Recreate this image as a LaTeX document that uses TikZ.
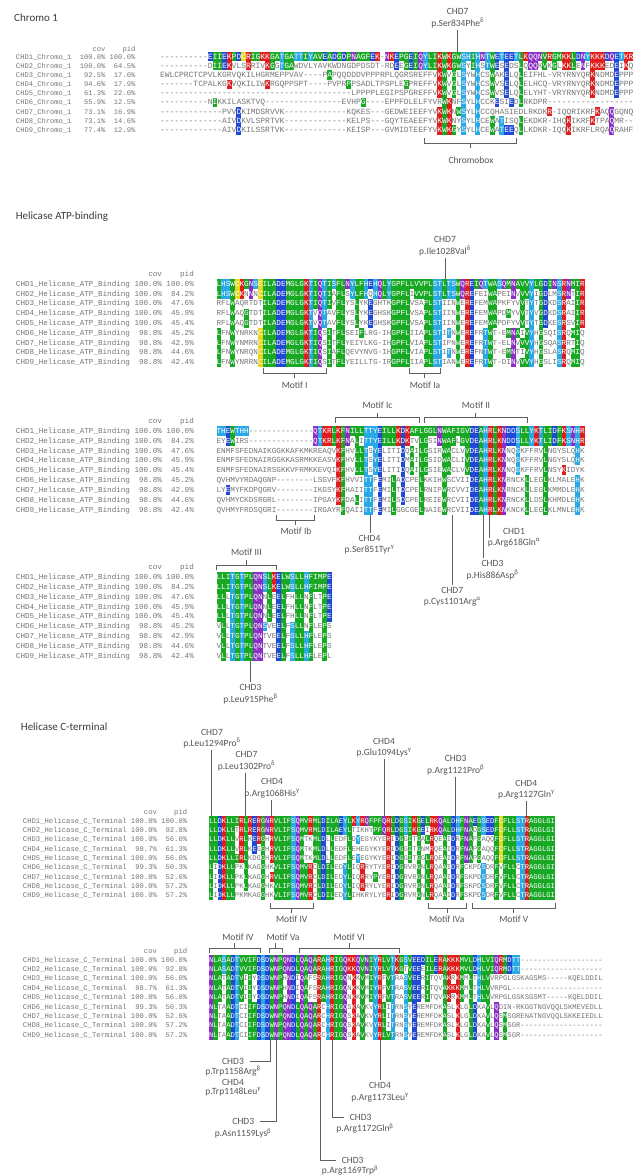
\documentclass[tikz,border=0pt]{standalone}
\usepackage{fontspec}
\setmainfont{Carlito}
\newfontfamily\monof{Liberation Mono}
\definecolor{rsg}{RGB}{24,168,36}
\definecolor{rsb}{RGB}{32,72,214}
\definecolor{rsr}{RGB}{224,28,28}
\definecolor{rsc}{RGB}{40,168,228}
\definecolor{rsp}{RGB}{138,46,198}
\definecolor{rsy}{RGB}{232,214,24}
\definecolor{alt}{RGB}{118,118,118}
\definecolor{lblc}{RGB}{85,85,85}
\definecolor{lnc}{RGB}{95,95,95}
\definecolor{ttlc}{RGB}{60,60,60}
% residue -> colour class
\def\rc#1#2{\expandafter\def\csname rclr#1\endcsname{#2}}
\rc Ag\rc Vg\rc Lg\rc Ig\rc Mg\rc Fg\rc Wg\rc Gg\rc Pg
\rc Db\rc Eb\rc Kr\rc Rr\rc Sc\rc Tc\rc Hc\rc Yc\rc Np\rc Qp\rc Cy
\newcount\alcol
\def\alfillcell#1#2{%
  \if#1-\else\if#1#2%
    \edef\alcc{rs\csname rclr#1\endcsname}%
    \fill[fill=\alcc] ({\alx+\the\alcol*\alw},{\alcy-\alh/2}) rectangle ++(\alw,\alh);%
  \fi\fi}
\def\alfillscan#1#2\relax#3#4\relax{%
  \alfillcell#1#3%
  \advance\alcol by 1\relax
  \ifx\relax#2\relax\else\alfillscan#2\relax#4\relax\fi}
\def\altextcell#1#2{\if#1-{\color{alt}-}\else\if#1#2{\color{white}#1}\else{\color{alt}#1}\fi\fi}
\def\altextscan#1#2\relax#3#4\relax{%
  \altextcell#1#3%
  \ifx\relax#2\relax\else\altextscan#2\relax#4\relax\fi}
\def\alpad{..............................}
\newcommand\alblock[6]{\def\alx{#1}\def\aly{#2}\def\alw{#3}\def\alh{#4}\def\alfs{#5}\def\alref{#6}\pgfmathsetmacro\aloff{0.3*#5}}
\newcommand\alrow[3]{%
  \pgfmathsetmacro\alcy{\aly+#2*\alh}%
  \alcol=0
  \edef\alnext{\noexpand\alfillscan#3\relax\alref\alpad\relax}\alnext
  \edef\alnexttxt{\noexpand\altextscan#3\relax\alref\alpad\relax}%
  \node[seqtxt] (#1) at (\alx,{\alcy+\aloff}) {\alnexttxt};}
\newcommand\lrow[4]{\node[labtxt] (#1) at (#2,{\aly+#3*\alh+\aloff}) {#4};}
\newcommand\brkbelow[3]{%
  \draw[brk] (#1,#3-5) -- (#1,#3) -- (#2,#3) -- (#2,#3-5);
  \draw[brk] ({(#1+#2)/2},#3) -- ({(#1+#2)/2},#3+5);}
\newcommand\brkabove[3]{%
  \draw[brk] (#1,#3+5) -- (#1,#3) -- (#2,#3) -- (#2,#3+5);
  \draw[brk] ({(#1+#2)/2},#3) -- ({(#1+#2)/2},#3-5);}
\tikzset{
  seqtxt/.style={anchor=base west, inner sep=0pt, outer sep=0pt, font=\monof\fontsize{\alfs}{\alfs}\selectfont},
  labtxt/.style={anchor=base west, inner sep=0pt, outer sep=0pt, text=alt, font=\monof\fontsize{\lfs}{\lfs}\selectfont},
  ann/.style={font=\fontsize{9.5}{11.5}\selectfont, text=lblc, align=center, inner sep=0pt, outer sep=2pt},
  annone/.style={font=\fontsize{9.5}{11.5}\selectfont, text=lblc, inner sep=0pt, outer sep=0pt},
  conn/.style={draw=lnc, line width=0.75pt},
  brk/.style={draw=lnc, line width=0.75pt},
  ttl/.style={font=\fontsize{11}{13}\selectfont, text=ttlc, anchor=west, inner sep=0pt},
  motif/.style={font=\fontsize{9.5}{11.5}\selectfont, text=lblc, inner sep=0pt}
}
\begin{document}
\begin{tikzpicture}[x=1pt,y=-1pt]
\fill[white] (0,0) rectangle (640,1176);
\useasboundingbox (0,0) rectangle (640,1176);

%================ Chromo 1
\node[ttl] (t1) at (14,17.3) {Chromo 1};
\alblock{160}{56.7}{4.78}{9.17}{7.97}{----------EIIEKPDCRIGKKGATGATTIYAVEADGDPNAGFEK-NKEPGEIQYLIKWKGWSHIHNTWETEETLKQQNVRGMKKLDNYKKKDQETKR}
\def\lfs{7.1}
\lrow{ch0}{16}{-0.85}{~~~~~~~~~~~~~~~~~~cov~~~~pid}
\lrow{ch1}{16}{0}{CHD1\_Chromo\_1~~100.0\%~100.0\%}
\lrow{ch2}{16}{1}{CHD2\_Chromo\_1~~100.0\%~~64.5\%}
\lrow{ch3}{16}{2}{CHD3\_Chromo\_1~~~92.5\%~~17.0\%}
\lrow{ch4}{16}{3}{CHD4\_Chromo\_1~~~94.6\%~~17.9\%}
\lrow{ch5}{16}{4}{CHD5\_Chromo\_1~~~61.3\%~~22.0\%}
\lrow{ch6}{16}{5}{CHD6\_Chromo\_1~~~55.9\%~~12.5\%}
\lrow{ch7}{16}{6}{CHD7\_Chromo\_1~~~73.1\%~~16.9\%}
\lrow{ch8}{16}{7}{CHD8\_Chromo\_1~~~73.1\%~~14.6\%}
\lrow{ch9}{16}{8}{CHD9\_Chromo\_1~~~77.4\%~~12.9\%}
\alrow{cs1}{0}{----------EIIEKPDCRIGKKGATGATTIYAVEADGDPNAGFEK-NKEPGEIQYLIKWKGWSHIHNTWETEETLKQQNVRGMKKLDNYKKKDQETKR}
\alrow{cs2}{1}{----------DIIEKVLSRRIVKGGTGAWDVLYAVKWDNGDPDSDT-RDEEGEIQYLIKWKGWSYIHSTWESEDSLQQQKVKGLKKLENFKKKEDEIKQ}
\alrow{cs3}{2}{EWLCPRCTCPVLKGRVQKILHGRMEPPVAV----PAPQQDDDVPPPRPLQGRSREFFVKWVGLSYWHCSWAKELQLEIFHL-VRYRNYQRKNDMDEPPP}
\alrow{cs4}{3}{-------TCPALKGKVQKILIWKRGQPPSPT----PVPRPPSADLTPSPLEGPREFFVKWVGLSYWHCSWVSELQLELHCQ-VRYRNYQRKNDMDEPPP}
\alrow{cs5}{4}{----------------------------------------LPPPPLEGIPSPGREFFVKWVGLSYWHCSWVSELQLELYHT-VRYRNYQRKNDMDEPPP}
\alrow{cs6}{5}{----------NIKKILASKTVQ----------------EVHPG----EPPFDLELFYVRWKNFSYLHCCKESIEDLRKDPR------------------}
\alrow{cs7}{6}{-------------PVVDKIMDSRVVK-------------KQKES---GEDWEIEEFYVKWKNWSYLHCCQHASIEDLRKDKR-IQQRIKRFKAQQGQNQ}
\alrow{cs8}{7}{-------------AIVDKVLSPRTVK-------------KELPS---GQYTEAEEFYVKWKNYSYLHCEWATISQLEKDKR-IHQKIKRFKTPAQMR--}
\alrow{cs9}{8}{-------------AIVDKILSSRTVK-------------KEISP---GVMIDTEEFYVKWKGYSYLHCEWATEEQLLKDKR-IQQKIKRFLRQAQRAHF}
\node[ann] (a1) at (457.7,18.3) {CHD7\\p.Ser834Phe\textsuperscript{δ}};
\coordinate (a1t) at (457.7,52.1);
\draw[conn] (a1) -- (a1t);
\brkbelow{424.3}{516}{143.3}
\node[motif] (m0) at (471,160) {Chromobox};

%================ Helicase ATP-binding
\node[ttl] (t2) at (15.6,217) {Helicase ATP-binding};
\node[ann] (a2) at (445,246) {CHD7\\p.Ile1028Val\textsuperscript{δ}};
\coordinate (a2t) at (445,279.1);
\draw[conn] (a2) -- (a2t);
\def\lfs{7.6}
\alblock{216.6}{284}{4.6}{9.8}{7.667}{LHSWCKGNSCILADEMGLGKTIQTISFLNYLFHEHQLYGPFLLVVPLSTLTSWQREIQTWASQMNAVVYLGDINSRNMIR}
\lrow{h10}{16}{-1}{~~~~~~~~~~~~~~~~~~~~~~~~~~~~~cov~~~~pid}
\lrow{h11}{16}{0}{CHD1\_Helicase\_ATP\_Binding~100.0\%~100.0\%}
\lrow{h12}{16}{1}{CHD2\_Helicase\_ATP\_Binding~100.0\%~~84.2\%}
\lrow{h13}{16}{2}{CHD3\_Helicase\_ATP\_Binding~100.0\%~~47.6\%}
\lrow{h14}{16}{3}{CHD4\_Helicase\_ATP\_Binding~100.0\%~~45.9\%}
\lrow{h15}{16}{4}{CHD5\_Helicase\_ATP\_Binding~100.0\%~~45.4\%}
\lrow{h16}{16}{5}{CHD6\_Helicase\_ATP\_Binding~~98.8\%~~45.2\%}
\lrow{h17}{16}{6}{CHD7\_Helicase\_ATP\_Binding~~98.8\%~~42.9\%}
\lrow{h18}{16}{7}{CHD8\_Helicase\_ATP\_Binding~~98.8\%~~44.6\%}
\lrow{h19}{16}{8}{CHD9\_Helicase\_ATP\_Binding~~98.8\%~~42.4\%}
\alrow{hs11}{0}{LHSWCKGNSCILADEMGLGKTIQTISFLNYLFHEHQLYGPFLLVVPLSTLTSWQREIQTWASQMNAVVYLGDINSRNMIR}
\alrow{hs12}{1}{LHSWCKNNNCILADEMGLGKTIQTIAFLSYLFHQHQLYGPFLIVVPLSTLTSWQREFEIWAPEINVVVYIGDLMSRNTIR}
\alrow{hs13}{2}{RFLWAQRTDTILADEMGLGKTIQTIVFLYSLYKEGHTKGPFLVSAPLSTIINWEREFEMWAPKFYVVTYTGDKDSRAIIR}
\alrow{hs14}{3}{RFLWAQGTDTILADEMGLGKTVQTAVFLYSLYKEGHSKGPFLVSAPLSTIINWEREFEMWAPDMYVVTYVGDKDSRAIIR}
\alrow{hs15}{4}{RFLWAQGTDTILADEMGLGKTVQTAVFLYSLYKEGHSKGPFLVSAPLSTIINWEREFEMWAPDFYVVTYTGDKESRSVIR}
\alrow{hs16}{5}{LFNWYNRKNCILADEMGLGKTIQSITFLSEIFLRG-IHGPFLIIAPLSTITNWEREFRTWT-EMNAIVYHGSQISRQMIQ}
\alrow{hs17}{6}{LFNWYNMRNCILADEMGLGKTIQSITFLYEIYLKG-IHGPFLVIAPLSTIPNWEREFRTWT-ELNVVVYHGSQASRRTIQ}
\alrow{hs18}{7}{LFNWYNRQNCILADEMGLGKTIQSIAFLQEVYNVG-IHGPFLVIAPLSTITNWEREFNTWT-EMNTIVYHGSLASRQMIQ}
\alrow{hs19}{8}{LFNWYNRRNCILADEMGLGKTIQSITFLYEILLTG-IRGPFLIIAPLSTIANWEREFRTWT-DINVVVYHGSLISRQMIQ}
\brkbelow{263.3}{326}{373}
\node[motif] (m1) at (294.7,385) {Motif I};
\brkbelow{409}{440.7}{373}
\node[motif] (m2) at (425,385) {Motif Ia};

% block 2
\brkabove{335.7}{419.3}{417.7}
\node[motif] (m3) at (377.5,405.5) {Motif Ic};
\brkabove{424}{527.7}{417.7}
\node[motif] (m4) at (476,405.5) {Motif II};
\alblock{216.6}{431}{4.6}{9.85}{7.667}{THEWTHH--------------QTKRLKFNILLTTYEILLKDKAFLGGLNWAFIGVDEAHRLKNDDSLLYKTLIDFKSNHR}
\lrow{h20}{16}{-1}{~~~~~~~~~~~~~~~~~~~~~~~~~~~~~cov~~~~pid}
\lrow{h21}{16}{0}{CHD1\_Helicase\_ATP\_Binding~100.0\%~100.0\%}
\lrow{h22}{16}{1}{CHD2\_Helicase\_ATP\_Binding~100.0\%~~84.2\%}
\lrow{h23}{16}{2}{CHD3\_Helicase\_ATP\_Binding~100.0\%~~47.6\%}
\lrow{h24}{16}{3}{CHD4\_Helicase\_ATP\_Binding~100.0\%~~45.9\%}
\lrow{h25}{16}{4}{CHD5\_Helicase\_ATP\_Binding~100.0\%~~45.4\%}
\lrow{h26}{16}{5}{CHD6\_Helicase\_ATP\_Binding~~98.8\%~~45.2\%}
\lrow{h27}{16}{6}{CHD7\_Helicase\_ATP\_Binding~~98.8\%~~42.9\%}
\lrow{h28}{16}{7}{CHD8\_Helicase\_ATP\_Binding~~98.8\%~~44.6\%}
\lrow{h29}{16}{8}{CHD9\_Helicase\_ATP\_Binding~~98.8\%~~42.4\%}
\alrow{hs21}{0}{THEWTHH--------------QTKRLKFNILLTTYEILLKDKAFLGGLNWAFIGVDEAHRLKNDDSLLYKTLIDFKSNHR}
\alrow{hs22}{1}{EYEWIRS--------------QTKRLKFNALITTYEILLKDKTVLGSINWAFLGVDEAHRLKNDDSLLYKTLIDFKSNHR}
\alrow{hs23}{2}{ENMFSFEDNAIKGGKKAFKMKREAQVKFHVLLTSYELITIDQAILGSIRWACLVVDEAHRLKNNQSKFFRVLNGYSLQHK}
\alrow{hs24}{3}{ENMFSFEDNAIRGGKKASRMKKEASVKFHVLLTSYELITIDMAILGSIDWACLIVDEAHRLKNNQSKFFRVLNGYSLQHK}
\alrow{hs25}{4}{ENMFSFEDNAIRSGKKVFRMKKEVQIKFHVLLTSYELITIDQAILGSIEWACLVVDEAHRLKNNQSKFFRVLNSYKIDYK}
\alrow{hs26}{5}{QVHMVYRDAQGNP--------LSGVFKFHVVITTFEMILADCPELKKIHWSCVIIDEAHRLKNRNCKLLEGLKLMALEHK}
\alrow{hs27}{6}{LYEMYFKDPQGRV--------IKGSYKFHAIITTFEMILTDCPELRNIPWRCVVIDEAHRLKNRNCKLLEGLKMMDLEHK}
\alrow{hs28}{7}{QVHMYCKDSRGRL--------IPGAYKFDALITTFEMILSDCPELREIEWRCVIIDEAHRLKNRNCKLLDSLKHMDLEHK}
\alrow{hs29}{8}{QVHMYFRDSQGRI--------IRGAYRFQAIITTFEMILGGCGELNAIEWRCVIIDEAHRLKNKNCKLLEGLKLMNLEHK}
\brkbelow{276}{314}{520}
\node[motif] (m5) at (296,531.5) {Motif Ib};
\coordinate (l1) at (370,514.8);
\coordinate (l2) at (452.3,514.8);
\coordinate (l3) at (483.3,514.8);
\coordinate (l4) at (489,514.8);
\node[ann] (b1) at (369.5,544.7) {CHD4\\p.Ser851Tyr\textsuperscript{γ}};
\node[ann] (b2) at (452.3,596.5) {CHD7\\p.Cys1101Arg\textsuperscript{α}};
\node[ann] (b3) at (492.5,570) {CHD3\\p.His886Asp\textsuperscript{β}};
\node[ann] (b4) at (514,537.5) {CHD1\\p.Arg618Gln\textsuperscript{α}};
\draw[conn] (l1) -- (l1 |- b1.north);
\draw[conn] (l2) -- (l2 |- b2.north);
\draw[conn] (l3) -- (l3 |- b3.north);
\draw[conn] (l4) -- (l4 |- b4.center);

% block 3
\brkabove{216.7}{276}{565}
\node[motif] (m6) at (246.4,552.5) {Motif III};
\alblock{216.6}{577}{4.6}{9.9}{7.667}{LLITGTPLQNSLKELWSLLHFIMPE}
\lrow{h30}{16}{-1}{~~~~~~~~~~~~~~~~~~~~~~~~~~~~~cov~~~~pid}
\lrow{h31}{16}{0}{CHD1\_Helicase\_ATP\_Binding~100.0\%~100.0\%}
\lrow{h32}{16}{1}{CHD2\_Helicase\_ATP\_Binding~100.0\%~~84.2\%}
\lrow{h33}{16}{2}{CHD3\_Helicase\_ATP\_Binding~100.0\%~~47.6\%}
\lrow{h34}{16}{3}{CHD4\_Helicase\_ATP\_Binding~100.0\%~~45.9\%}
\lrow{h35}{16}{4}{CHD5\_Helicase\_ATP\_Binding~100.0\%~~45.4\%}
\lrow{h36}{16}{5}{CHD6\_Helicase\_ATP\_Binding~~98.8\%~~45.2\%}
\lrow{h37}{16}{6}{CHD7\_Helicase\_ATP\_Binding~~98.8\%~~42.9\%}
\lrow{h38}{16}{7}{CHD8\_Helicase\_ATP\_Binding~~98.8\%~~44.6\%}
\lrow{h39}{16}{8}{CHD9\_Helicase\_ATP\_Binding~~98.8\%~~42.4\%}
\alrow{hs31}{0}{LLITGTPLQNSLKELWSLLHFIMPE}
\alrow{hs32}{1}{LLITGTPLQNSLKELWSLLHFIMPE}
\alrow{hs33}{2}{LLLTGTPLQNNLEELFHLLNFLTPE}
\alrow{hs34}{3}{LLLTGTPLQNNLEELFHLLNFLTPE}
\alrow{hs35}{4}{LLLTGTPLQNNLEELFHLLNFLTPE}
\alrow{hs36}{5}{VLLTGTPLQNSVEELFSLLNFLEPS}
\alrow{hs37}{6}{VLLTGTPLQNTVEELFSLLHFLEPS}
\alrow{hs38}{7}{VLLTGTPLQNTVEELFSLLHFLEPS}
\alrow{hs39}{8}{VLLTGTPLQNTVEELFSLLHFLEPL}
\coordinate (l5) at (250.7,661.3);
\node[ann] (b5) at (250.5,694) {CHD3\\p.Leu915Phe\textsuperscript{β}};
\draw[conn] (l5) -- (l5 |- b5.north);

%================ Helicase C-terminal
\node[ttl] (t3) at (20.7,726.7) {Helicase C-terminal};
\node[ann] (c1) at (212,738.7) {CHD7\\p.Leu1294Pro\textsuperscript{δ}};
\node[ann] (c2) at (246.5,761.3) {CHD7\\p.Leu1302Pro\textsuperscript{δ}};
\node[ann] (c3) at (272,788.3) {CHD4\\p.Arg1068His\textsuperscript{γ}};
\node[ann] (c4) at (384,747.5) {CHD4\\p.Glu1094Lys\textsuperscript{γ}};
\node[ann] (c5) at (455.7,765) {CHD3\\p.Arg1121Pro\textsuperscript{β}};
\node[ann] (c6) at (526.3,789.5) {CHD4\\p.Arg1127Gln\textsuperscript{γ}};
\coordinate (k1) at (211.2,816.3);
\coordinate (k2) at (245.7,816.3);
\coordinate (k3) at (271.7,816.3);
\coordinate (k4) at (384,816.3);
\coordinate (k5) at (455.7,816.3);
\coordinate (k6) at (526.3,816.3);
\draw[conn] (k1 |- c1.south) -- (k1);
\draw[conn] (k2 |- c2.south) -- (k2);
\draw[conn] (k3 |- c3.south) -- (k3);
\draw[conn] (k4 |- c4.south) -- (k4);
\draw[conn] (k5 |- c5.south) -- (k5);
\draw[conn] (k6 |- c6.south) -- (k6);
\def\lfs{7.2}
\alblock{209}{821}{4.325}{9.33}{7.208}{LLDKLLIRLRERGNRVLIFSQMVRMLDILAEYLKYRQFPFQRLDGSIKGELRKQALDHFNAEGSEDFCFLLSTRAGGLGI}
\lrow{g10}{23}{-0.9}{~~~~~~~~~~~~~~~~~~~~~~~~~~~~cov~~~~pid}
\lrow{g11}{23}{0}{CHD1\_Helicase\_C\_Terminal~100.0\%~100.0\%}
\lrow{g12}{23}{1}{CHD2\_Helicase\_C\_Terminal~100.0\%~~92.8\%}
\lrow{g13}{23}{2}{CHD3\_Helicase\_C\_Terminal~100.0\%~~56.0\%}
\lrow{g14}{23}{3}{CHD4\_Helicase\_C\_Terminal~~98.7\%~~61.3\%}
\lrow{g15}{23}{4}{CHD5\_Helicase\_C\_Terminal~100.0\%~~56.0\%}
\lrow{g16}{23}{5}{CHD6\_Helicase\_C\_Terminal~~99.3\%~~50.3\%}
\lrow{g17}{23}{6}{CHD7\_Helicase\_C\_Terminal~100.0\%~~52.6\%}
\lrow{g18}{23}{7}{CHD8\_Helicase\_C\_Terminal~100.0\%~~57.2\%}
\lrow{g19}{23}{8}{CHD9\_Helicase\_C\_Terminal~100.0\%~~57.2\%}
\alrow{gs11}{0}{LLDKLLIRLRERGNRVLIFSQMVRMLDILAEYLKYRQFPFQRLDGSIKGELRKQALDHFNAEGSEDFCFLLSTRAGGLGI}
\alrow{gs12}{1}{LLDKLLTRLRERGNRVLIFSQMVRMLDILAEYLTIKHYPFQRLDGSIKGEIRKQALDHFNADGSEDFCFLLSTRAGGLGI}
\alrow{gs13}{2}{LLDKLLVRLKERGHRVLIFSQMTKMLDLLEDFLDYEGYKYERIDGGITGALRQEAIDRFNAPGAQQFCFLLSTRAGGLGI}
\alrow{gs14}{3}{LLDKLLVRLKEGGHRVLIFSQMTKMLDLLEDFLEHEGYKYERIDGGITGNMRQEAIDRFNAPGAQQFCFLLSTRAGGLGI}
\alrow{gs15}{4}{LLDKLLIRLKDGGHRVLIFSQMTKMLDLLEDFLEYEGYKYERIDGGITGGLRQEAIDRFNAPGAQQFCFLLSTRAGGLGI}
\alrow{gs16}{5}{LIDKLLPKLKAGGHKVLIFSQMVRCLDILEDYLIQRRYTYERIDGRVRGNLRQAAIDRFCKPDSDRFVFLLCTRAGGLGI}
\alrow{gs17}{6}{LIDKLLPKLKAGGHRVLIFSQMVRCLDILEDYLIQRRYPYERIDGRVRGNLRQAAIDRFSKPDSDRFVFLLCTRAGGLGI}
\alrow{gs18}{7}{LIDKLLPKLKAGGHKVLIFSQMVRCLDILEDYLIQRRYLYERIDGRVRGNLRQAAIDRFSKPDSDRFVFLLCTRAGGLGI}
\alrow{gs19}{8}{LIDKLLPKMKAGGHKVLIFSQMVRCLDILEDYLIHKRYLYERIDGRVRGNLRQAAIDRFSKPDSDRFVFLLCTRAGGLGI}
\brkbelow{270}{313}{908}
\node[motif] (m7) at (291.7,919) {Motif IV};
\brkbelow{428}{466.7}{908}
\node[motif] (m8) at (446.7,919) {Motif IVa};
\brkbelow{472.7}{555}{908}
\node[motif] (m9) at (513.8,919) {Motif V};

% block 2
\brkabove{209}{260.7}{948}
\node[motif] (m10) at (238,937.5) {Motif IV};
\brkabove{269}{282.7}{948}
\node[motif] (m11) at (283,937.5) {Motif Va};
\brkabove{299}{399.3}{948}
\node[motif] (m12) at (349.2,937.5) {Motif VI};
\alblock{209}{960}{4.325}{9.4}{7.208}{NLASADTVVIFDSDWNPQNDLQAQARAHRIGQKKQVNIYRLVTKGSVEEDILERAKKKMVLDHLVIQRMDTT-------------------}
\lrow{g20}{23}{-0.9}{~~~~~~~~~~~~~~~~~~~~~~~~~~~~cov~~~~pid}
\lrow{g21}{23}{0}{CHD1\_Helicase\_C\_Terminal~100.0\%~100.0\%}
\lrow{g22}{23}{1}{CHD2\_Helicase\_C\_Terminal~100.0\%~~92.8\%}
\lrow{g23}{23}{2}{CHD3\_Helicase\_C\_Terminal~100.0\%~~56.0\%}
\lrow{g24}{23}{3}{CHD4\_Helicase\_C\_Terminal~~98.7\%~~61.3\%}
\lrow{g25}{23}{4}{CHD5\_Helicase\_C\_Terminal~100.0\%~~56.0\%}
\lrow{g26}{23}{5}{CHD6\_Helicase\_C\_Terminal~~99.3\%~~50.3\%}
\lrow{g27}{23}{6}{CHD7\_Helicase\_C\_Terminal~100.0\%~~52.6\%}
\lrow{g28}{23}{7}{CHD8\_Helicase\_C\_Terminal~100.0\%~~57.2\%}
\lrow{g29}{23}{8}{CHD9\_Helicase\_C\_Terminal~100.0\%~~57.2\%}
\alrow{gs21}{0}{NLASADTVVIFDSDWNPQNDLQAQARAHRIGQKKQVNIYRLVTKGSVEEDILERAKKKMVLDHLVIQRMDTT-------------------}
\alrow{gs22}{1}{NLASADTVVIFDSDWNPQNDLQAQARAHRIGQKKQVNIYRLVTKGTVEEEILERAKKKMVLDHLVIQRMDTT-------------------}
\alrow{gs23}{2}{NLATADTVIIYDSDWNPHNDIQAFSRAHRIGQNKKVMIYRFVTRASVEERITQVAKRKMMLTHLVVRPGLGSKAGSMS-----KQELDDIL}
\alrow{gs24}{3}{NLATADTVIIYDSDWNPHNDIQAFSRAHRIGQNKKVMIYRFVTRASVEERITQVAKKKMMLTHLVVRPGL---------------------}
\alrow{gs25}{4}{NLATADTVIIYDSDWNPHNDIQAFSRAHRIGQNKKVMIYRFVTRASVEERITQVAKRKMMLTHLVVRPGLGSKSGSMT-----KQELDDIL}
\alrow{gs26}{5}{NLTAADTCIIFDSDWNPQNDLQAQARCHRIGQSKAVKVYRLITRNSYEREMFDKASLKLGLDKAVLQDIN-RKGGTNGVQQLSKMEVEDLL}
\alrow{gs27}{6}{NLTAADTCIIFDSDWNPQNDLQAQARCHRIGQSKAVKVYRLITRNSYEREMFDKASLKLGLDKAVLQSMSGRENATNGVQQLSKKEIEDLL}
\alrow{gs28}{7}{NLTAADTCIIFDSDWNPQNDLQAQARCHRIGQSKAVKVYRLITRNSYEREMFDKASLKLGLDKAVLQSMSGR-------------------}
\alrow{gs29}{8}{NLTAADTCIIFDSDWNPQNDLQAQARCHRIGQSKAVKVYRLVTRNSYEREMFDKASLKLGLDKAVLQSMSGR-------------------}
% annotations below
\coordinate (w1) at (270.7,1039.9);
\coordinate (w2) at (276,1039.9);
\coordinate (w3) at (320,1039.9);
\coordinate (w4) at (332.3,1039.9);
\coordinate (w5) at (380,1039.9);
\node[annone] (d1) at (233,1061) {CHD3};
\node[annone] (d2) at (233,1071) {p.Trp1158Arg\textsuperscript{β}};
\node[annone] (d3) at (233,1082) {CHD4};
\node[annone] (d4) at (233,1092) {p.Trp1148Leu\textsuperscript{γ}};
\node[annone] (d5) at (243.3,1121.7) {CHD3};
\node[annone] (d6) at (243,1133.5) {p.Asn1159Lys\textsuperscript{β}};
\node[annone] (d7) at (352.7,1160) {CHD3};
\node[annone] (d8) at (350,1170.5) {p.Arg1169Trp\textsuperscript{β}};
\node[annone] (d9) at (360.7,1117) {CHD3};
\node[annone] (d10) at (365,1128.5) {p.Arg1172Gln\textsuperscript{β}};
\node[ann] (d11) at (380,1092) {CHD4\\p.Arg1173Leu\textsuperscript{γ}};
\draw[conn] (w1) |- ([xshift=6pt]d1.east);
\draw[conn] (w2) |- ([xshift=6pt]d5.east);
\draw[conn] (w3) |- ([xshift=-6pt]d7.west);
\draw[conn] (w4) |- ([xshift=-6pt]d9.west);
\draw[conn] (w5) -- (w5 |- d11.north);
\end{tikzpicture}
\end{document}
